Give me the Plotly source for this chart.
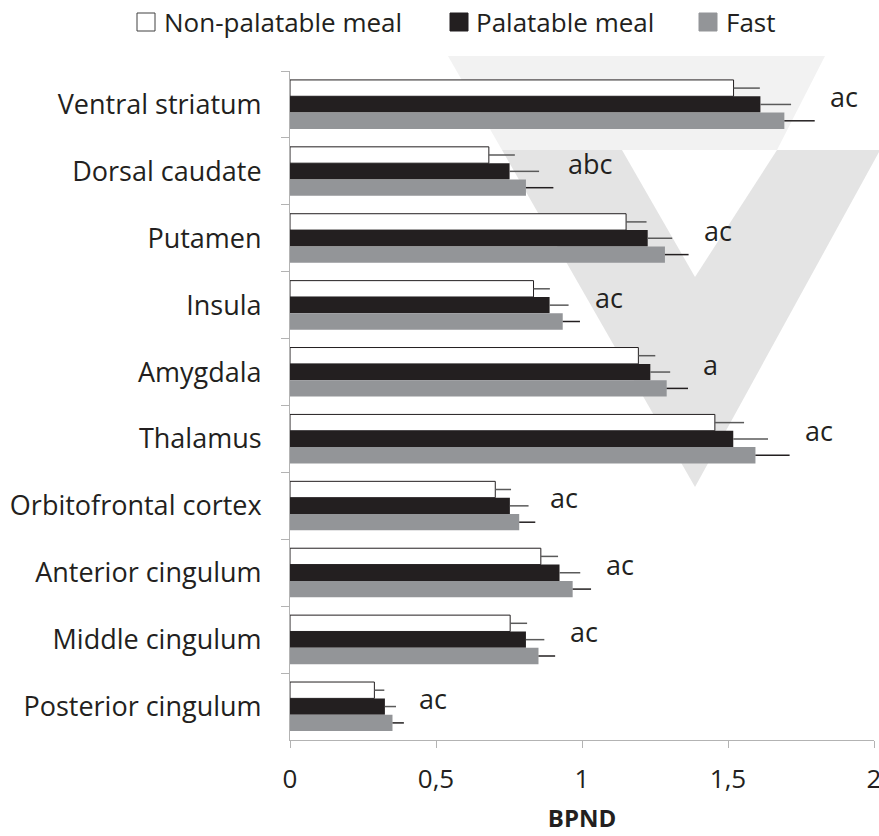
import plotly.graph_objects as go

# ---- data ----
regions = ["Ventral striatum", "Dorsal caudate", "Putamen", "Insula", "Amygdala",
           "Thalamus", "Orbitofrontal cortex", "Anterior cingulum", "Middle cingulum",
           "Posterior cingulum"]
series_names = ["Non-palatable meal", "Palatable meal", "Fast"]
nonpal = [1.519, 0.681, 1.151, 0.834, 1.193, 1.455, 0.703, 0.859, 0.754, 0.289]
nonpal_err = [0.090, 0.089, 0.070, 0.056, 0.058, 0.100, 0.054, 0.059, 0.058, 0.034]
pal = [1.611, 0.752, 1.225, 0.889, 1.234, 1.518, 0.753, 0.923, 0.808, 0.325]
pal_err = [0.105, 0.101, 0.084, 0.065, 0.068, 0.119, 0.064, 0.071, 0.063, 0.038]
fast = [1.693, 0.808, 1.284, 0.934, 1.290, 1.594, 0.785, 0.968, 0.851, 0.351]
fast_err = [0.104, 0.094, 0.081, 0.059, 0.073, 0.117, 0.055, 0.063, 0.057, 0.039]
letters = ["ac", "abc", "ac", "ac", "a", "ac", "ac", "ac", "ac", "ac"]
x_ticks = [0, 0.5, 1, 1.5, 2]
x_tick_labels = ["0", "0,5", "1", "1,5", "2"]
x_title = "BPND"

# ---- styling ----
W, H = 879, 836
ML, MR, MT, MB = 290, 5, 71, 96
FONT = "Open Sans"
TXT = "#231f20"
fills = ["#ffffff", "#231f20", "#939598"]
outlines = ["#231f20", "#231f20", "#939598"]
err_cols = ["#5a5a5a", "#5a5a5a", "#231f20"]

def px(xp):
    return (xp - ML) / (W - ML - MR)

def py(yp):
    return (H - MB - yp) / (H - MT - MB)

fig = go.Figure()
vals = [nonpal, pal, fast]
errs = [nonpal_err, pal_err, fast_err]
for i in range(3):
    fig.add_trace(go.Bar(
        y=regions, x=vals[i], orientation="h", name=series_names[i],
        marker=dict(color=fills[i], line=dict(color=outlines[i], width=1 if i == 0 else 0)),
        error_x=dict(type="data", symmetric=False, array=errs[i],
                     arrayminus=[0] * len(regions), color=err_cols[i],
                     thickness=1.5, width=0),
        showlegend=False, hoverinfo="x+y",
    ))

# significance letters
annotations = []
for k, reg in enumerate(regions):
    top = max(v[k] + e[k] for v, e in zip(vals, errs))
    annotations.append(dict(x=top, y=reg, xref="x", yref="y", text=letters[k],
                            showarrow=False, xanchor="left", yanchor="middle",
                            xshift=13, yshift=8,
                            font=dict(family=FONT, size=27, color=TXT)))

# manual legend
shapes = []
leg_sq = [137, 450, 699]
leg_txt = [164, 476, 726]
for i in range(3):
    shapes.append(dict(type="rect", xref="paper", yref="paper",
                       x0=px(leg_sq[i]), x1=px(leg_sq[i] + 18), y0=py(31), y1=py(13),
                       fillcolor=fills[i],
                       line=dict(color="#404040" if i == 0 else fills[i], width=1)))
    annotations.append(dict(x=px(leg_txt[i] - 2), y=py(22), xref="paper", yref="paper",
                            text=series_names[i], showarrow=False, xanchor="left",
                            yanchor="middle",
                            font=dict(family=FONT, size=26, color=TXT)))

# watermark (background decoration)
def poly(points):
    return "M " + " L ".join(f"{px(a):.4f},{py(b):.4f}" for a, b in points) + " Z"

shapes = [
    dict(type="path", xref="paper", yref="paper", layer="below",
         path=poly([(448, 56), (825, 56), (777, 150), (502, 150)]),
         fillcolor="#f2f2f2", line=dict(width=0)),
    dict(type="path", xref="paper", yref="paper", layer="below",
         path=poly([(502, 150), (879, 150), (879, 152), (695, 487)]),
         fillcolor="#e4e4e4", line=dict(width=0)),
    dict(type="path", xref="paper", yref="paper", layer="below",
         path=poly([(622, 150), (777, 150), (695, 277)]),
         fillcolor="#ffffff", line=dict(width=0)),
] + shapes

fig.update_layout(
    width=W, height=H,
    margin=dict(l=ML, r=MR, t=MT, b=MB, autoexpand=False),
    paper_bgcolor="white", plot_bgcolor="rgba(0,0,0,0)",
    barmode="group", bargap=0.267, bargroupgap=0,
    font=dict(family=FONT, color=TXT),
    annotations=annotations, shapes=shapes,
    xaxis=dict(range=[0, 2], tickvals=x_ticks, ticktext=x_tick_labels,
               automargin=False,
               showgrid=False, zeroline=False, showline=True, linecolor="#b3b3b3",
               linewidth=1, ticks="outside", ticklen=7, tickcolor="#b3b3b3",
               ticklabelstandoff=9, ticklabeloverflow="allow",
               tickfont=dict(family=FONT, size=26, color=TXT),
               title=dict(text="<b>" + x_title + "</b>", standoff=14,
                          font=dict(family=FONT, size=24, color=TXT))),
    yaxis=dict(autorange="reversed", automargin=False,
               showgrid=False, zeroline=False, showline=True,
               linecolor="#b3b3b3", linewidth=1, ticks="outside", ticklen=8,
               tickcolor="#b3b3b3", tickson="boundaries", ticklabelstandoff=22,
               tickfont=dict(family=FONT, size=27, color=TXT)),
)

fig.write_html("out.html", config={"displayModeBar": False},
               post_script="document.body.style.margin='0px';")
